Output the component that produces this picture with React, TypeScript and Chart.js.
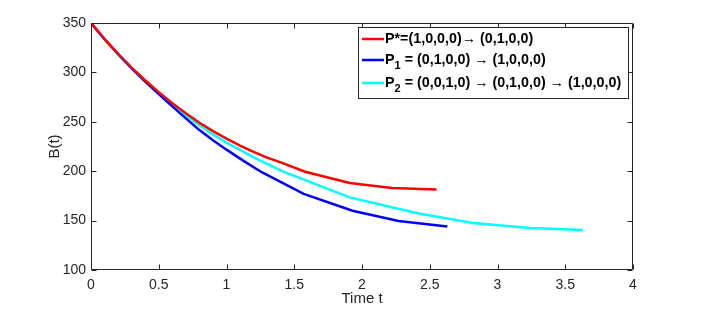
import React, { useEffect, useRef } from "react";
import { Chart, registerables } from "chart.js";

Chart.register(...registerables);

const tRed = [0, 0.1, 0.2, 0.3, 0.4, 0.5, 0.6, 0.7, 0.8, 0.9, 1.0, 1.1, 1.2, 1.3, 1.4, 1.58, 1.91, 2.22, 2.55];
const bRed = [350, 333.8, 318.8, 304.9, 292, 280, 268.9, 258.6, 249, 240.6, 233, 226, 219.5, 213.8, 209, 199.5, 188, 183, 181.5];

const tBlue = [0, 0.1, 0.2, 0.3, 0.4, 0.5, 0.6, 0.7, 0.8, 0.9, 1.0, 1.12, 1.26, 1.57, 1.93, 2.27, 2.63];
const bBlue = [350, 333.7, 318.5, 304.2, 290.8, 278, 265.6, 253.4, 241.6, 231.3, 221.8, 211, 199, 177, 160, 149.5, 144];

const tCyan = [0, 0.1, 0.2, 0.3, 0.4, 0.5, 0.6, 0.7, 0.8, 0.9, 1.0, 1.1, 1.2, 1.42, 1.91, 2.41, 2.82, 3.24, 3.63];
const bCyan = [350, 333.7, 318.6, 304.5, 291.4, 279, 267.4, 256.5, 246.5, 237.2, 229, 221.5, 214, 199.5, 173.5, 157.5, 147.5, 142.5, 140.5];

const xTicks = [0, 0.5, 1, 1.5, 2, 2.5, 3, 3.5, 4];
const yTicks = [100, 150, 200, 250, 300, 350];

const xTitle = "Time t";
const yTitle = "B(t)";

// legend entries: prefix, subscript, then segments; arrows drawn in normal weight
const legendPrefix = ["P*=(1,0,0,0)", "P", "P"];
const legendSub = ["", "1", "2"];
const legendRest = [
  ["", "→", " (0,1,0,0)"],
  [" = (0,1,0,0) ", "→", " (1,0,0,0)"],
  [" = (0,0,1,0) ", "→", " (0,1,0,0) ", "→", " (1,0,0,0)"],
];
const seriesColors = ["#ff0000", "#0000ff", "#00ffff"];

const AXIS = "#262626";
const FONT = "'Liberation Sans', Arial, sans-serif";

const toPts = (t: number[], b: number[]) => t.map((x, i) => ({ x, y: b[i] }));

const framePlugin = {
  id: "matlabFrame",
  afterDraw(chart: any) {
    const { ctx, chartArea: a } = chart;
    const xs = chart.scales.x;
    const ys = chart.scales.y;
    ctx.save();
    ctx.strokeStyle = AXIS;
    ctx.lineWidth = 1;
    const L = Math.round(a.left) + 0.5;
    const R = Math.round(a.right) - 0.5;
    const T = Math.round(a.top) + 0.5;
    const B = Math.round(a.bottom) - 0.5;
    ctx.beginPath();
    ctx.rect(L, T, R - L, B - T);
    const tl = 5;
    xTicks.forEach((v) => {
      const px = Math.round(xs.getPixelForValue(v)) + 0.5;
      ctx.moveTo(px, B);
      ctx.lineTo(px, B - tl);
      ctx.moveTo(px, T);
      ctx.lineTo(px, T + tl);
    });
    yTicks.forEach((v) => {
      const py = Math.round(ys.getPixelForValue(v)) + 0.5;
      ctx.moveTo(L, py);
      ctx.lineTo(L + tl, py);
      ctx.moveTo(R, py);
      ctx.lineTo(R - tl, py);
    });
    ctx.stroke();

    // axis titles
    ctx.fillStyle = AXIS;
    ctx.font = `15px ${FONT}`;
    ctx.textAlign = "center";
    ctx.textBaseline = "middle";
    ctx.fillText(xTitle, (a.left + a.right) / 2, 299);
    ctx.save();
    ctx.translate(55, (a.top + a.bottom) / 2);
    ctx.rotate(-Math.PI / 2);
    ctx.fillText(yTitle, 0, 0);
    ctx.restore();

    // legend
    const bx = 358.5, by = 27.5, bw = 270, bh = 71;
    ctx.fillStyle = "#ffffff";
    ctx.fillRect(bx, by, bw, bh);
    ctx.strokeStyle = AXIS;
    ctx.strokeRect(bx, by, bw, bh);
    const rowY = [39, 60, 83];
    const boldFont = `bold 14.3px ${FONT}`;
    const subFont = `bold 11px ${FONT}`;
    const normFont = `14.3px ${FONT}`;
    ctx.textAlign = "left";
    ctx.textBaseline = "middle";
    for (let i = 0; i < 3; i++) {
      const y = rowY[i];
      ctx.strokeStyle = seriesColors[i];
      ctx.lineWidth = 2.5;
      ctx.beginPath();
      ctx.moveTo(362, y);
      ctx.lineTo(384, y);
      ctx.stroke();
      let x = 385;
      ctx.fillStyle = "#000000";
      ctx.font = boldFont;
      ctx.fillText(legendPrefix[i], x, y);
      x += ctx.measureText(legendPrefix[i]).width;
      if (legendSub[i]) {
        ctx.font = subFont;
        ctx.fillText(legendSub[i], x, y + 6);
        x += ctx.measureText(legendSub[i]).width;
      }
      legendRest[i].forEach((seg) => {
        ctx.font = seg === "→" ? normFont : boldFont;
        ctx.fillText(seg, x, y);
        x += ctx.measureText(seg).width;
      });
    }
    ctx.restore();
  },
};

export default function App() {
  const ref = useRef<HTMLCanvasElement | null>(null);
  useEffect(() => {
    if (!ref.current) return;
    const chart = new Chart(ref.current, {
      type: "line",
      data: {
        datasets: [
          { label: "P*", data: toPts(tRed, bRed), borderColor: seriesColors[0], borderWidth: 2.5, pointRadius: 0, fill: false, tension: 0 },
          { label: "P1", data: toPts(tBlue, bBlue), borderColor: seriesColors[1], borderWidth: 2.5, pointRadius: 0, fill: false, tension: 0 },
          { label: "P2", data: toPts(tCyan, bCyan), borderColor: seriesColors[2], borderWidth: 2.5, pointRadius: 0, fill: false, tension: 0 },
        ],
      },
      options: {
        animation: false,
        responsive: false,
        devicePixelRatio: 1,
        layout: { padding: { left: 0, right: 69, top: 23, bottom: 0 } },
        plugins: { legend: { display: false }, tooltip: { enabled: false } },
        scales: {
          x: {
            type: "linear",
            min: 0,
            max: 4,
            afterFit: (s: any) => { s.height = 45; },
            afterBuildTicks: (s: any) => { s.ticks = xTicks.map((v) => ({ value: v })); },
            grid: { display: false, drawTicks: false },
            border: { display: false },
            ticks: { color: AXIS, font: { size: 14, family: FONT }, padding: 7, maxRotation: 0, callback: (v: any) => String(v) },
          },
          y: {
            type: "linear",
            min: 100,
            max: 350,
            afterFit: (s: any) => { s.width = 91; },
            afterBuildTicks: (s: any) => { s.ticks = yTicks.map((v) => ({ value: v })); },
            grid: { display: false, drawTicks: false },
            border: { display: false },
            ticks: { color: AXIS, font: { size: 14, family: FONT }, padding: 5, callback: (v: any) => String(v) },
          },
        },
      },
      plugins: [framePlugin],
    });
    return () => chart.destroy();
  }, []);
  return (
    <div style={{ position: "absolute", left: 0, top: 0, width: 702, height: 315, background: "#fff" }}>
      <canvas ref={ref} width={702} height={315} style={{ width: 702, height: 315 }} />
    </div>
  );
}
